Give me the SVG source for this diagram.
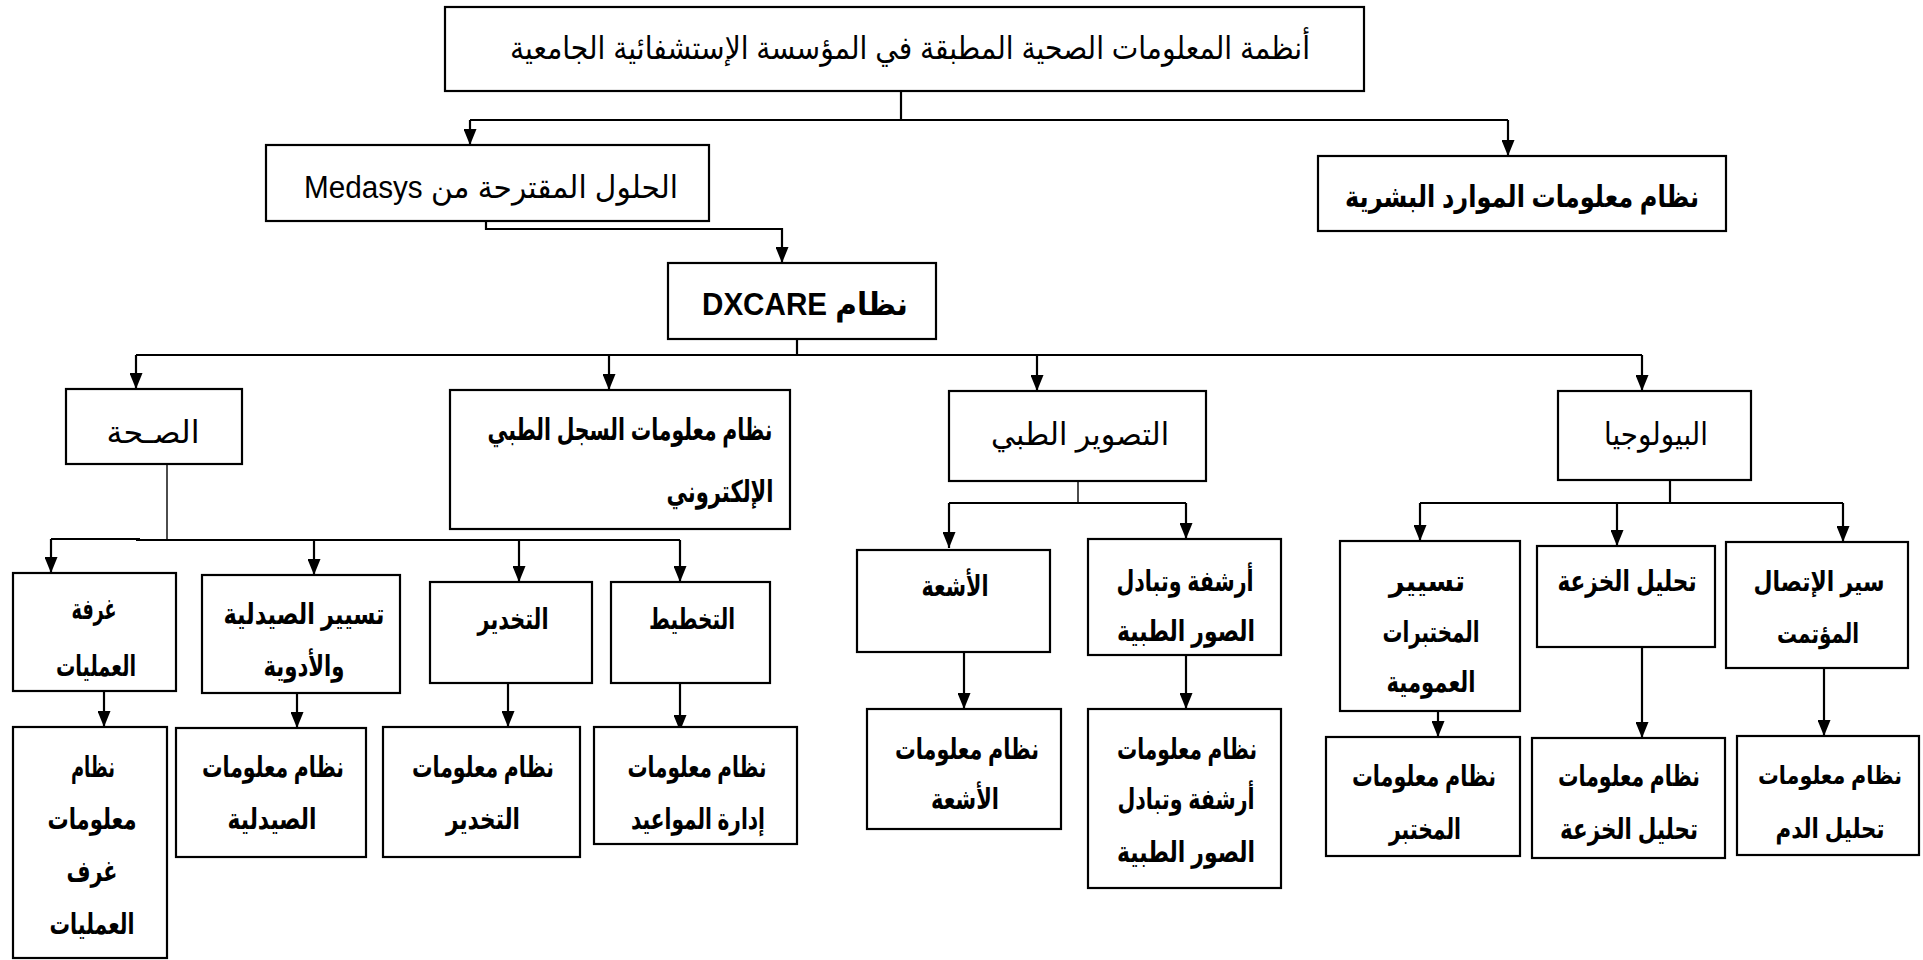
<svg xmlns="http://www.w3.org/2000/svg" width="1923" height="960" viewBox="0 0 1923 960">
  <defs>
    <marker id="arrow" markerUnits="userSpaceOnUse" markerWidth="16" markerHeight="13" refX="16" refY="6.5" orient="auto">
      <path d="M0,0 L16,6.5 L0,13 z" fill="#000"/>
    </marker>
    <style>
      .box { fill: #fff; stroke: #000; stroke-width: 2.2; }
      .wire { fill: none; stroke: #000; stroke-width: 2.2; }
      .thin { fill: none; stroke: #000; stroke-width: 1.4; }
      .arr { fill: none; stroke: #000; stroke-width: 2.2; marker-end: url(#arrow); }
      text { font-family: "Liberation Sans", "DejaVu Sans", sans-serif; fill: #000; text-anchor: middle; direction: rtl; }
      .reg { font-size: 31px; font-weight: normal; }
      .title { font-size: 32px; font-weight: normal; }
      .bold { font-size: 30px; font-weight: bold; }
      .sub { font-size: 29px; font-weight: bold; }
      .narrow { font-size: 27px; }
      .tight { font-size: 25px; }
    </style>
  </defs>

  <rect width="1923" height="960" fill="#fff"/>

  <!-- connectors -->
  <g id="connectors">
    <!-- root to its two children -->
    <polyline class="wire" points="901,91 901,120"/>
    <polyline class="wire" points="470,120 1508,120"/>
    <polyline class="arr" points="470,120 470,145"/>
    <polyline class="arr" points="1508,120 1508,156"/>
    <!-- Medasys to DXCARE -->
    <polyline class="arr" points="486,221 486,229 782,229 782,263"/>
    <!-- DXCARE to its four modules -->
    <polyline class="wire" points="797,339 797,355"/>
    <polyline class="wire" points="136,355 1642,355"/>
    <polyline class="arr" points="136,355 136,389"/>
    <polyline class="arr" points="609,355 609,390"/>
    <polyline class="arr" points="1037,355 1037,391"/>
    <polyline class="arr" points="1642,355 1642,391"/>
    <!-- health branch -->
    <polyline class="thin" points="167,464 167,541"/>
    <polyline class="wire" points="51,539 140,539"/>
    <polyline class="wire" points="136,540 680,540"/>
    <polyline class="arr" points="51,539 51,573"/>
    <polyline class="arr" points="314,540 314,575"/>
    <polyline class="arr" points="519,540 519,582"/>
    <polyline class="arr" points="680,540 680,582"/>
    <polyline class="arr" points="104,691 104,727"/>
    <polyline class="arr" points="297,693 297,728"/>
    <polyline class="arr" points="508,683 508,727"/>
    <polyline class="arr" points="680,683 680,731"/>
    <!-- imaging branch -->
    <polyline class="thin" points="1078,481 1078,503"/>
    <polyline class="wire" points="949,503 1186,503"/>
    <polyline class="arr" points="949,503 949,548"/>
    <polyline class="arr" points="1186,503 1186,539"/>
    <polyline class="arr" points="964,652 964,709"/>
    <polyline class="arr" points="1186,655 1186,709"/>
    <!-- biology branch -->
    <polyline class="wire" points="1670,480 1670,503"/>
    <polyline class="wire" points="1420,503 1843,503"/>
    <polyline class="arr" points="1420,503 1420,541"/>
    <polyline class="arr" points="1617,503 1617,546"/>
    <polyline class="arr" points="1843,503 1843,542"/>
    <polyline class="arr" points="1438,711 1438,737"/>
    <polyline class="arr" points="1642,647 1642,738"/>
    <polyline class="arr" points="1824,668 1824,736"/>
  </g>

  <!-- level 0 -->
  <g id="root">
    <rect class="box" x="445" y="7" width="919" height="84"/>
    <text class="title" x="910" y="59" textLength="800" lengthAdjust="spacingAndGlyphs">أنظمة المعلومات الصحية المطبقة في المؤسسة الإستشفائية الجامعية</text>
  </g>

  <!-- level 1 -->
  <g id="medasys">
    <rect class="box" x="266" y="145" width="443" height="76"/>
    <text class="reg" x="491" y="198" textLength="374" lengthAdjust="spacingAndGlyphs">الحلول المقترحة من Medasys</text>
  </g>
  <g id="hr-system">
    <rect class="box" x="1318" y="156" width="408" height="75"/>
    <text class="bold" x="1522" y="207" textLength="354" lengthAdjust="spacingAndGlyphs">نظام معلومات الموارد البشرية</text>
  </g>

  <!-- level 2 -->
  <g id="dxcare">
    <rect class="box" x="668" y="263" width="268" height="76"/>
    <text class="bold" style="font-size:31px" x="805" y="315" textLength="206" lengthAdjust="spacingAndGlyphs">نظام DXCARE</text>
  </g>

  <!-- level 3 -->
  <g id="health">
    <rect class="box" x="66" y="389" width="176" height="75"/>
    <text class="reg" x="153" y="443" textLength="93" lengthAdjust="spacingAndGlyphs">الصـحة</text>
  </g>
  <g id="ehr">
    <rect class="box" x="450" y="390" width="340" height="139"/>
    <text class="bold" x="630" y="440" textLength="285" lengthAdjust="spacingAndGlyphs">نظام معلومات السجل الطبي</text>
    <text class="bold" x="720" y="502" textLength="107" lengthAdjust="spacingAndGlyphs">الإلكتروني</text>
  </g>
  <g id="imaging">
    <rect class="box" x="949" y="391" width="257" height="90"/>
    <text class="reg" x="1080" y="445" textLength="178" lengthAdjust="spacingAndGlyphs">التصوير الطبي</text>
  </g>
  <g id="biology">
    <rect class="box" x="1558" y="391" width="193" height="89"/>
    <text class="reg" x="1656" y="445" textLength="104" lengthAdjust="spacingAndGlyphs">البيولوجيا</text>
  </g>

  <!-- level 4: health -->
  <g id="operating-room">
    <rect class="box" x="13" y="573" width="163" height="118"/>
    <text class="sub" x="94" y="619" textLength="45" lengthAdjust="spacingAndGlyphs">غرفة</text>
    <text class="sub" x="96" y="676" textLength="80" lengthAdjust="spacingAndGlyphs">العمليات</text>
  </g>
  <g id="pharmacy">
    <rect class="box" x="202" y="575" width="198" height="118"/>
    <text class="sub" x="304" y="624" textLength="161" lengthAdjust="spacingAndGlyphs">تسيير الصيدلية</text>
    <text class="sub" x="304" y="676" textLength="81" lengthAdjust="spacingAndGlyphs">والأدوية</text>
  </g>
  <g id="anesthesia">
    <rect class="box" x="430" y="582" width="162" height="101"/>
    <text class="sub" x="513" y="629" textLength="71" lengthAdjust="spacingAndGlyphs">التخدير</text>
  </g>
  <g id="planning">
    <rect class="box" x="611" y="582" width="159" height="101"/>
    <text class="sub" x="692" y="629" textLength="86" lengthAdjust="spacingAndGlyphs">التخطيط</text>
  </g>

  <!-- level 5: health -->
  <g id="operating-room-system">
    <rect class="box" x="13" y="727" width="154" height="231"/>
    <text class="sub" x="93" y="777" textLength="44" lengthAdjust="spacingAndGlyphs">نظام</text>
    <text class="sub" x="92" y="829" textLength="89" lengthAdjust="spacingAndGlyphs">معلومات</text>
    <text class="sub" x="92" y="881" textLength="51" lengthAdjust="spacingAndGlyphs">غرف</text>
    <text class="sub" x="92" y="934" textLength="85" lengthAdjust="spacingAndGlyphs">العمليات</text>
  </g>
  <g id="pharmacy-system">
    <rect class="box" x="176" y="728" width="190" height="129"/>
    <text class="sub" x="273" y="777" textLength="142" lengthAdjust="spacingAndGlyphs">نظام معلومات</text>
    <text class="sub" x="272" y="829" textLength="89" lengthAdjust="spacingAndGlyphs">الصيدلية</text>
  </g>
  <g id="anesthesia-system">
    <rect class="box" x="383" y="727" width="197" height="130"/>
    <text class="sub" x="483" y="777" textLength="142" lengthAdjust="spacingAndGlyphs">نظام معلومات</text>
    <text class="sub" x="483" y="829" textLength="74" lengthAdjust="spacingAndGlyphs">التخدير</text>
  </g>
  <g id="planning-system">
    <rect class="box" x="594" y="727" width="203" height="117"/>
    <text class="sub" x="697" y="777" textLength="139" lengthAdjust="spacingAndGlyphs">نظام معلومات</text>
    <text class="sub" x="698" y="829" textLength="134" lengthAdjust="spacingAndGlyphs">إدارة المواعيد</text>
  </g>

  <!-- level 4/5: imaging -->
  <g id="radiology">
    <rect class="box" x="857" y="550" width="193" height="102"/>
    <text class="sub" x="955" y="596" textLength="67" lengthAdjust="spacingAndGlyphs">الأشعة</text>
  </g>
  <g id="archiving">
    <rect class="box" x="1088" y="539" width="193" height="116"/>
    <text class="sub" x="1185" y="591" textLength="137" lengthAdjust="spacingAndGlyphs">أرشفة وتبادل</text>
    <text class="sub" x="1186" y="641" textLength="138" lengthAdjust="spacingAndGlyphs">الصور الطبية</text>
  </g>
  <g id="radiology-system">
    <rect class="box" x="867" y="709" width="194" height="120"/>
    <text class="sub" x="967" y="759" textLength="144" lengthAdjust="spacingAndGlyphs">نظام معلومات</text>
    <text class="sub" x="965" y="809" textLength="68" lengthAdjust="spacingAndGlyphs">الأشعة</text>
  </g>
  <g id="archiving-system">
    <rect class="box" x="1088" y="709" width="193" height="179"/>
    <text class="sub" x="1187" y="759" textLength="140" lengthAdjust="spacingAndGlyphs">نظام معلومات</text>
    <text class="sub" x="1186" y="809" textLength="137" lengthAdjust="spacingAndGlyphs">أرشفة وتبادل</text>
    <text class="sub" x="1186" y="862" textLength="138" lengthAdjust="spacingAndGlyphs">الصور الطبية</text>
  </g>

  <!-- level 4/5: biology -->
  <g id="lab-management">
    <rect class="box" x="1340" y="541" width="180" height="170"/>
    <text class="sub" x="1427" y="591" textLength="76" lengthAdjust="spacingAndGlyphs">تسيير</text>
    <text class="sub" x="1431" y="642" textLength="97" lengthAdjust="spacingAndGlyphs">المختبرات</text>
    <text class="sub" x="1431" y="692" textLength="89" lengthAdjust="spacingAndGlyphs">العمومية</text>
  </g>
  <g id="biopsy">
    <rect class="box" x="1537" y="546" width="178" height="101"/>
    <text class="sub" x="1627" y="591" textLength="139" lengthAdjust="spacingAndGlyphs">تحليل الخزعة</text>
  </g>
  <g id="automation">
    <rect class="box" x="1726" y="542" width="182" height="126"/>
    <text class="sub narrow" x="1819" y="591" textLength="131" lengthAdjust="spacingAndGlyphs">سير الإتصال</text>
    <text class="sub narrow" x="1818" y="643" textLength="82" lengthAdjust="spacingAndGlyphs">المؤتمت</text>
  </g>
  <g id="lab-system">
    <rect class="box" x="1326" y="737" width="194" height="119"/>
    <text class="sub" x="1424" y="786" textLength="144" lengthAdjust="spacingAndGlyphs">نظام معلومات</text>
    <text class="sub" x="1425" y="839" textLength="72" lengthAdjust="spacingAndGlyphs">المختبر</text>
  </g>
  <g id="biopsy-system">
    <rect class="box" x="1532" y="738" width="193" height="120"/>
    <text class="sub" x="1629" y="786" textLength="142" lengthAdjust="spacingAndGlyphs">نظام معلومات</text>
    <text class="sub" x="1629" y="839" textLength="138" lengthAdjust="spacingAndGlyphs">تحليل الخزعة</text>
  </g>
  <g id="blood-system">
    <rect class="box" x="1737" y="736" width="182" height="119"/>
    <text class="sub tight" x="1830" y="784" textLength="144" lengthAdjust="spacingAndGlyphs">نظام معلومات</text>
    <text class="sub narrow" x="1830" y="838" textLength="109" lengthAdjust="spacingAndGlyphs">تحليل الدم</text>
  </g>
</svg>
